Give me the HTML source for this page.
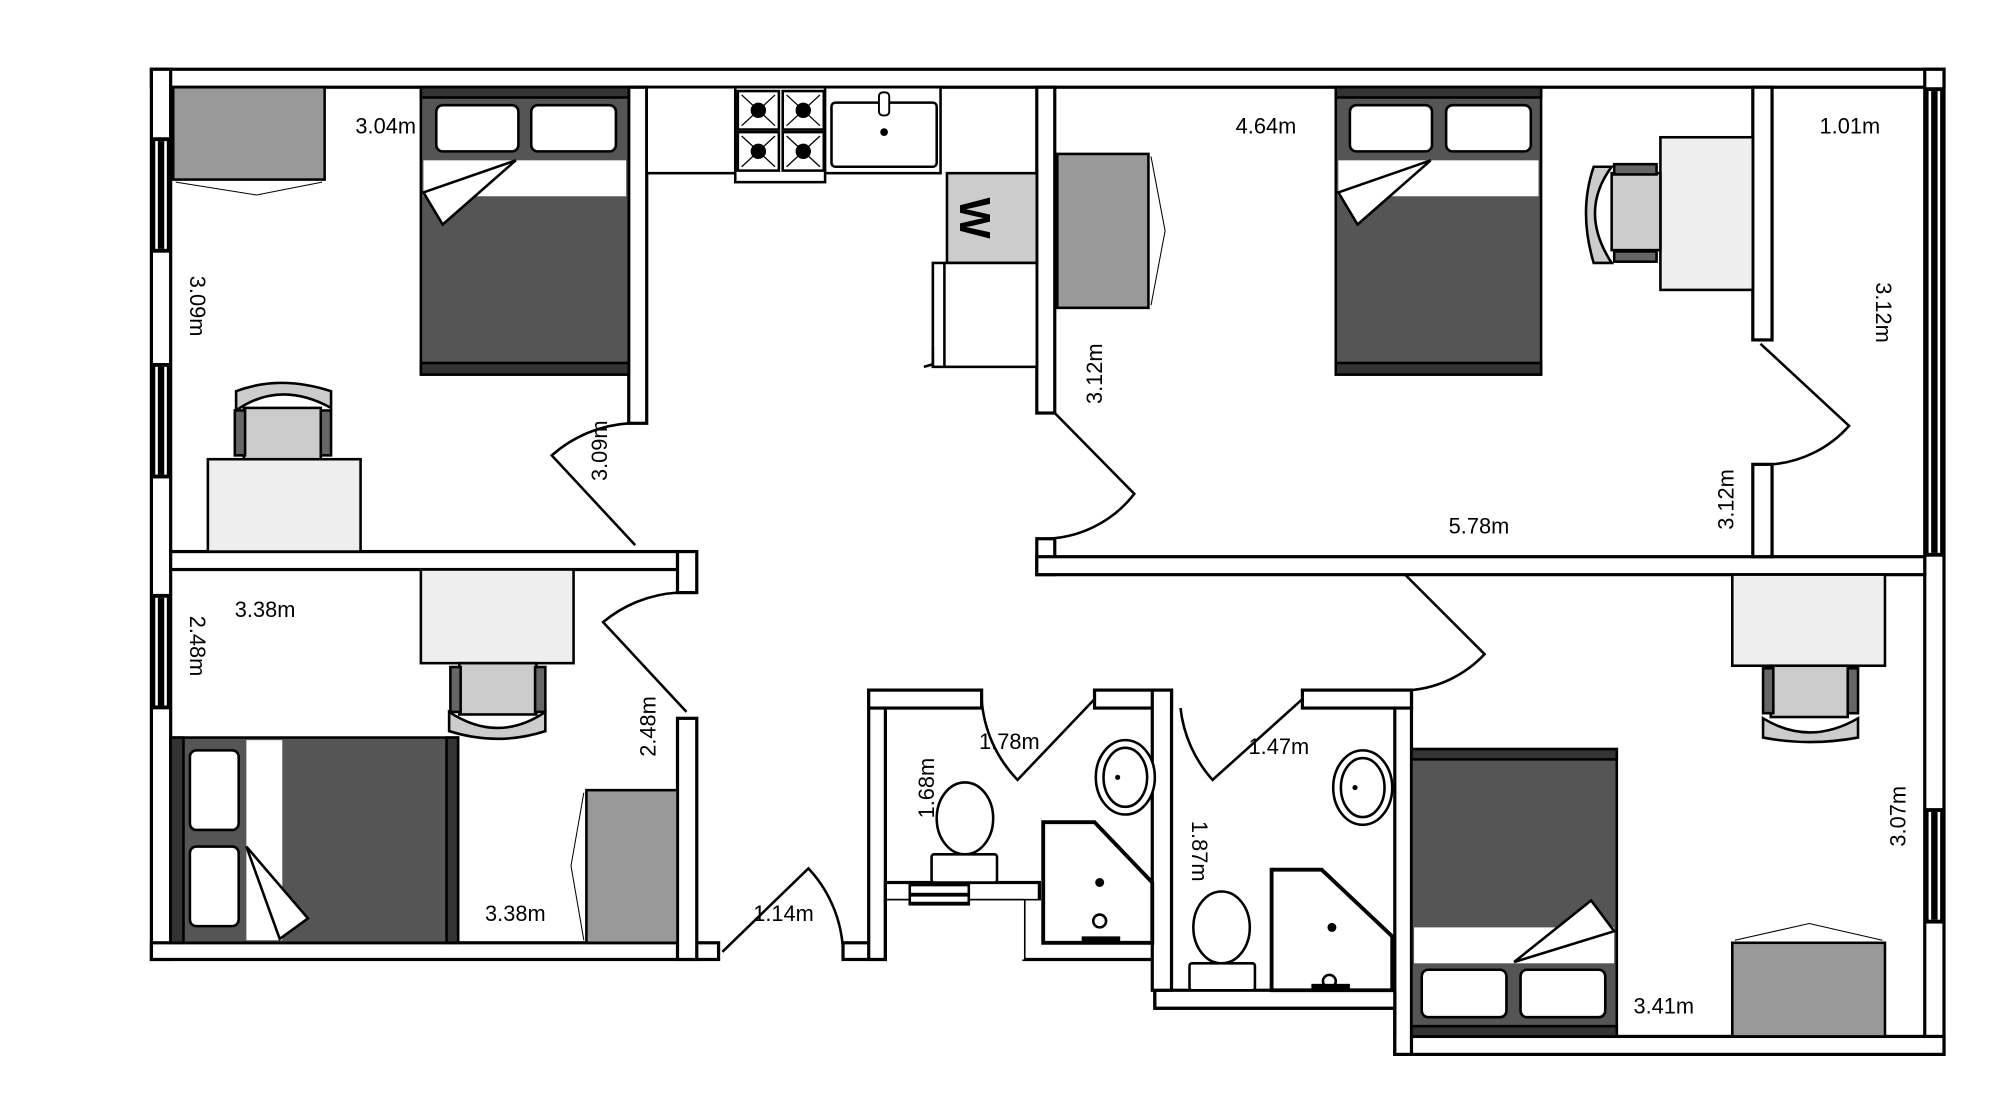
<!DOCTYPE html>
<html><head><meta charset="utf-8"><style>
html,body{margin:0;padding:0;background:#fff}
svg{display:block}
text{font-family:"Liberation Sans",sans-serif;font-size:17px;fill:#000}
</style></head><body>
<svg width="2012" height="1098" viewBox="0 0 1568 856" preserveAspectRatio="none" xmlns="http://www.w3.org/2000/svg">
<rect width="1568" height="856" fill="#fff"/>
<g fill="#fff" stroke="#000" stroke-width="2.5">
<rect x="118" y="54" width="1397" height="14"/>
<rect x="118" y="54" width="15" height="694"/>
<rect x="118" y="735" width="442" height="13"/>
<rect x="1500" y="54" width="15" height="768"/>
<rect x="1087" y="808" width="428" height="14"/>
<rect x="490" y="68" width="14" height="262"/>
<rect x="133" y="430" width="395" height="14"/>
<rect x="528" y="430" width="15" height="32"/>
<rect x="528" y="560" width="15" height="188"/>
<rect x="808" y="68" width="14" height="254"/>
<rect x="808" y="420" width="14" height="28"/>
<rect x="808" y="434" width="692" height="14"/>
<rect x="1366" y="68" width="15" height="197"/>
<rect x="1366" y="362" width="15" height="72"/>
<rect x="1087" y="538" width="13" height="284"/>
<rect x="657" y="735" width="33" height="13"/>
<rect x="677" y="538" width="13" height="210"/>
<rect x="677" y="538" width="88" height="14"/>
<rect x="853" y="538" width="60" height="14"/>
<rect x="1015" y="538" width="85" height="14"/>
<rect x="690" y="688" width="120" height="14"/>
<rect x="798" y="702" width="100" height="46" stroke="none"/>
<polyline points="690,702 798,702 798,748 900,748 900,786 1087,786 1087,808" fill="none"/>
<rect x="900" y="772" width="187" height="14"/>
<rect x="898" y="538" width="15" height="234"/>
<rect x="690" y="702" width="108" height="46" stroke="none"/>
<line x1="690" y1="702" x2="690" y2="748"/>
</g>
<g fill="#000">
<rect x="118" y="107" width="15" height="90"/><rect x="121" y="110" width="9" height="84" fill="#fff"/><rect x="123" y="110" width="5" height="84"/>
<rect x="118" y="283" width="15" height="90"/><rect x="121" y="286" width="9" height="84" fill="#fff"/><rect x="123" y="286" width="5" height="84"/>
<rect x="118" y="463" width="15" height="90"/><rect x="121" y="466" width="9" height="84" fill="#fff"/><rect x="123" y="466" width="5" height="84"/>
<rect x="1500" y="68" width="15" height="366"/><rect x="1503" y="71" width="9" height="360" fill="#fff"/><rect x="1505" y="71" width="5" height="360"/>
<rect x="1500" y="630" width="15" height="90"/><rect x="1503" y="633" width="9" height="84" fill="#fff"/><rect x="1505" y="633" width="5" height="84"/>
<rect x="708" y="688" width="48" height="18"/><rect x="710" y="691" width="44" height="5" fill="#fff"/><rect x="710" y="699" width="44" height="4" fill="#fff"/>
</g>
<g fill="none" stroke="#000" stroke-width="2">
<path d="M495,425 L430,355 A100,100 0 0 1 490,330"/>
<path d="M535,555 L470,485 A100,100 0 0 1 528,462"/>
<path d="M563,742 L630,677 A100,100 0 0 1 657,742"/>
<path d="M822,322 L884,385 A90,90 0 0 1 812,420"/>
<path d="M1372,268 L1441,332 A90,90 0 0 1 1381,362"/>
<path d="M1095,448 L1157,510 A90,90 0 0 1 1100,538"/>
<path d="M765,545 A100,100 0 0 0 793,608 L853,545"/>
<path d="M920,552 A100,100 0 0 0 945,608 L1015,545"/>
</g>
<g stroke="#000" stroke-width="2">
<rect x="328" y="68" width="162" height="224" fill="#555"/>
<rect x="328" y="68" width="162" height="8" fill="#333"/><rect x="328" y="283" width="162" height="9" fill="#333"/>
<rect x="330" y="125" width="158" height="28" fill="#fff" stroke="none"/>
<rect x="340" y="82" width="64" height="36" rx="5" fill="#fff"/><rect x="414" y="82" width="66" height="36" rx="5" fill="#fff"/>
<polygon points="330,150 402,125 345,175" fill="#fff"/>
<rect x="1041" y="68" width="160" height="224" fill="#555"/>
<rect x="1041" y="68" width="160" height="8" fill="#333"/><rect x="1041" y="283" width="160" height="9" fill="#333"/>
<rect x="1043" y="125" width="156" height="28" fill="#fff" stroke="none"/>
<rect x="1052" y="82" width="64" height="36" rx="5" fill="#fff"/><rect x="1127" y="82" width="66" height="36" rx="5" fill="#fff"/>
<polygon points="1043,150 1115,125 1058,175" fill="#fff"/>
<rect x="1100" y="584" width="160" height="224" fill="#555"/>
<rect x="1100" y="584" width="160" height="8" fill="#333"/><rect x="1100" y="800" width="160" height="8" fill="#333"/>
<rect x="1102" y="723" width="156" height="28" fill="#fff" stroke="none"/>
<rect x="1108" y="756" width="66" height="37" rx="5" fill="#fff"/><rect x="1185" y="756" width="66" height="37" rx="5" fill="#fff"/>
<polygon points="1180,750 1240,702 1258,726" fill="#fff"/>
<rect x="133" y="575" width="224" height="160" fill="#555"/>
<rect x="133" y="575" width="10" height="160" fill="#333"/><rect x="348" y="575" width="9" height="160" fill="#333"/>
<rect x="192" y="577" width="28" height="156" fill="#fff" stroke="none"/>
<rect x="148" y="585" width="38" height="62" rx="5" fill="#fff"/><rect x="148" y="660" width="38" height="62" rx="5" fill="#fff"/>
<polygon points="192,660 218,732 240,716" fill="#fff"/>
</g>
<g stroke="#000" stroke-width="2" fill="#999">
<rect x="135" y="68" width="118" height="72"/>
<rect x="824" y="120" width="71" height="120"/>
<rect x="457" y="616" width="71" height="119"/>
<rect x="1350" y="735" width="119" height="73"/>
</g>
<g stroke="#000" stroke-width="0.8" fill="none">
<polyline points="137,142 200,152 251,142"/>
<polyline points="897,122 908,180 897,238"/>
<polyline points="455,618 445,675 455,733"/>
<polyline points="1352,733 1410,720 1467,733"/>
</g>
<g stroke="#000" stroke-width="2">
<rect x="162" y="358" width="119" height="72" fill="#eee"/>
<rect x="328" y="444" width="119" height="73" fill="#eee"/>
<rect x="1294" y="107" width="72" height="119" fill="#eee"/>
<rect x="1350" y="448" width="119" height="71" fill="#eee"/>
<rect x="190" y="318" width="60" height="40" fill="#ccc"/><path d="M184,320 Q218,296 258,318 L258,305 Q218,292 184,305 Z" fill="#ccc"/>
<rect x="183" y="320" width="8" height="35" fill="#666"/><rect x="250" y="320" width="8" height="35" fill="#666"/>
<rect x="358" y="517" width="60" height="40" fill="#ccc"/><path d="M350,555 Q388,580 425,555 L425,570 Q388,582 350,570 Z" fill="#ccc"/>
<rect x="351" y="520" width="8" height="35" fill="#666"/><rect x="417" y="520" width="8" height="35" fill="#666"/>
<rect x="1256" y="135" width="38" height="60" fill="#ccc"/><path d="M1256,130 Q1230,165 1256,205 L1242,205 Q1230,165 1242,130 Z" fill="#ccc"/>
<rect x="1258" y="128" width="33" height="8" fill="#666"/><rect x="1258" y="196" width="33" height="8" fill="#666"/>
<rect x="1380" y="519" width="60" height="40" fill="#ccc"/><path d="M1374,560 Q1410,582 1448,560 L1448,575 Q1410,582 1374,575 Z" fill="#ccc"/>
<rect x="1374" y="521" width="8" height="35" fill="#666"/><rect x="1440" y="521" width="8" height="35" fill="#666"/>
</g>
<g stroke="#000" stroke-width="2" fill="#fff">
<rect x="504" y="68" width="229" height="67"/>
<rect x="573" y="68" width="70" height="74"/>
<rect x="575" y="71" width="32" height="30"/><rect x="610" y="71" width="32" height="30"/>
<rect x="575" y="103" width="32" height="30"/><rect x="610" y="103" width="32" height="30"/>
<rect x="648" y="80" width="82" height="50" rx="3"/>
<rect x="738" y="135" width="70" height="70" fill="#ccc"/>
<rect x="727" y="205" width="81" height="81"/>
<line x1="736" y1="205" x2="736" y2="286"/>
<path d="M727,270 L727,284 L720,286" fill="none"/>
</g>
<g fill="#000">
<circle cx="591" cy="86" r="6"/><circle cx="626" cy="86" r="6"/><circle cx="591" cy="118" r="6"/><circle cx="626" cy="118" r="6"/>
<circle cx="689" cy="103" r="3"/>
</g>
<g stroke="#000" stroke-width="1"><line x1="578" y1="74" x2="604" y2="98"/><line x1="604" y1="74" x2="578" y2="98"/><line x1="613" y1="74" x2="639" y2="98"/><line x1="639" y1="74" x2="613" y2="98"/><line x1="578" y1="106" x2="604" y2="130"/><line x1="604" y1="106" x2="578" y2="130"/><line x1="613" y1="106" x2="639" y2="130"/><line x1="639" y1="106" x2="613" y2="130"/></g>
<rect x="685" y="72" width="8" height="18" rx="3" fill="#fff" stroke="#000" stroke-width="1.5"/>
<text x="0" y="0" transform="translate(760,170) rotate(90)" text-anchor="middle" style="font-size:34px;font-weight:bold" dy="12">W</text>
<g stroke="#000" stroke-width="2" fill="#fff">
<ellipse cx="752" cy="638" rx="22" ry="28"/>
<rect x="726" y="666" width="51" height="22" rx="2"/>
<ellipse cx="952" cy="723" rx="22" ry="28"/>
<rect x="927" y="751" width="51" height="21" rx="2"/>
<ellipse cx="877" cy="606" rx="23" ry="29"/><ellipse cx="877" cy="606" rx="17" ry="23"/>
<ellipse cx="1062" cy="614" rx="23" ry="29"/><ellipse cx="1062" cy="614" rx="17" ry="23"/>
<polygon points="813,641 853,641 898,688 898,735 813,735" stroke-width="3"/>
<polygon points="991,678 1030,678 1085,730 1085,772 991,772" stroke-width="3"/>
<circle cx="857" cy="718" r="5"/><circle cx="1036" cy="765" r="5"/>
</g>
<g fill="#000"><circle cx="857" cy="688" r="3.5"/><circle cx="1038" cy="723" r="3.5"/><circle cx="871" cy="606" r="2"/><circle cx="1056" cy="614" r="2"/>
<rect x="843" y="730" width="30" height="5"/><rect x="1022" y="767" width="30" height="5"/></g>
<text x="277" y="104">3.04m</text>
<text x="963" y="104">4.64m</text>
<text x="1418" y="104">1.01m</text>
<text x="183" y="481">3.38m</text>
<text x="378" y="718">3.38m</text>
<text x="587" y="718">1.14m</text>
<text x="1129" y="416">5.78m</text>
<text x="1273" y="790">3.41m</text>
<text x="763" y="584">1.78m</text>
<text x="973" y="588">1.47m</text>
<text transform="translate(148,215) rotate(90)">3.09m</text>
<text transform="translate(148,480) rotate(90)">2.48m</text>
<text transform="translate(1462,220) rotate(90)">3.12m</text>
<text transform="translate(929,640) rotate(90)">1.87m</text>
<text transform="translate(473,375) rotate(-90)">3.09m</text>
<text transform="translate(511,590) rotate(-90)">2.48m</text>
<text transform="translate(859,315) rotate(-90)">3.12m</text>
<text transform="translate(1351,413) rotate(-90)">3.12m</text>
<text transform="translate(1485,660) rotate(-90)">3.07m</text>
<text transform="translate(728,638) rotate(-90)">1.68m</text>
</svg>
</body></html>
